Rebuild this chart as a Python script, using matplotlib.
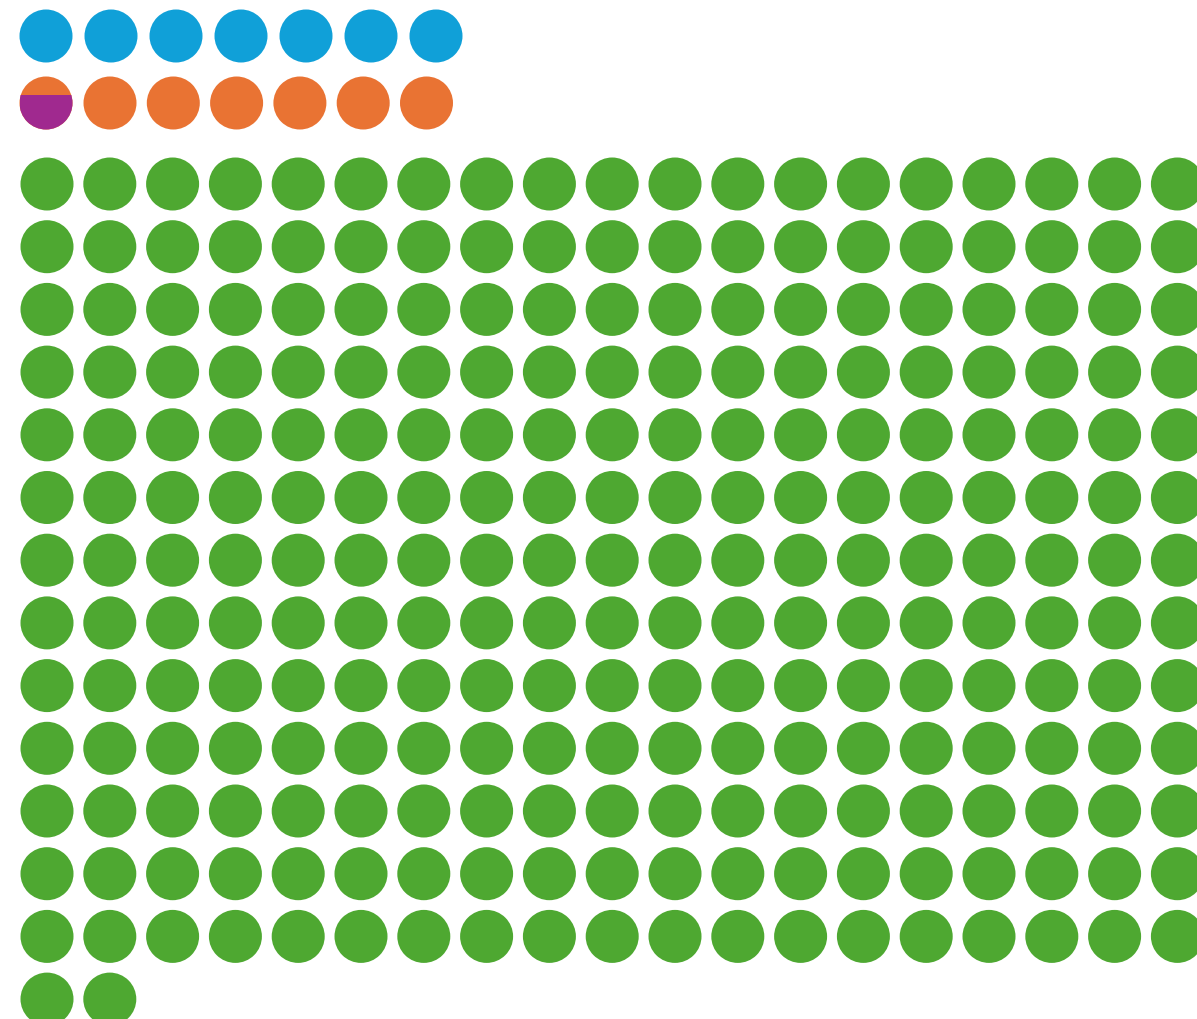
import numpy as np
import matplotlib
matplotlib.use("Agg")
import matplotlib.pyplot as plt
from matplotlib.patches import Circle, Rectangle

# counts per group (one dot = one unit, fractional part drawn as a split dot)
blue_count = 7
purple_count = 0.7
orange_count = 6.3
green_count = 249

blue_col = "#10a0d8"
orange_col = "#e97333"
purple_col = "#a0298f"
green_col = "#4ea831"

R = 26.5          # dot radius in pixels
PER_ROW = 19

fig = plt.figure(figsize=(11.97, 10.19), dpi=100)
ax = fig.add_axes([0, 0, 1, 1])
ax.set_xlim(0, 1197)
ax.set_ylim(1019, 0)
ax.axis("off")


def dot(x, y, color):
    ax.add_patch(Circle((x, y), R, facecolor=color, edgecolor="none"))


def split_height(frac):
    # height (from bottom) of a circle segment holding `frac` of the area
    lo, hi = 0.0, 2 * R
    for _ in range(50):
        h = (lo + hi) / 2
        d = R - h
        seg = R**2 * np.arccos(d / R) - d * np.sqrt(max(R**2 - d**2, 0))
        if seg / (np.pi * R**2) < frac:
            lo = h
        else:
            hi = h
    return h


# row 1: blue
for j in range(blue_count):
    dot(46 + j * 65, 36, blue_col)

# row 2: split purple/orange dot, then full orange dots
y2 = 103
x2 = 46
h = split_height(purple_count)
top = Circle((x2, y2), R, facecolor=orange_col, edgecolor="none")
ax.add_patch(top)
bot = Circle((x2, y2), R, facecolor=purple_col, edgecolor="none")
ax.add_patch(bot)
clip = Rectangle((x2 - R, y2 + R - h), 2 * R, h, transform=ax.transData)
bot.set_clip_path(clip)
n_orange_full = int(round(orange_count + purple_count)) - 1
for j in range(n_orange_full):
    dot(110 + j * 63.3, y2, orange_col)

# green block
for k in range(green_count):
    i, j = divmod(k, PER_ROW)
    dot(47 + j * 62.8, 184 + i * 62.7, green_col)

plt.savefig("out.png", dpi=100)
